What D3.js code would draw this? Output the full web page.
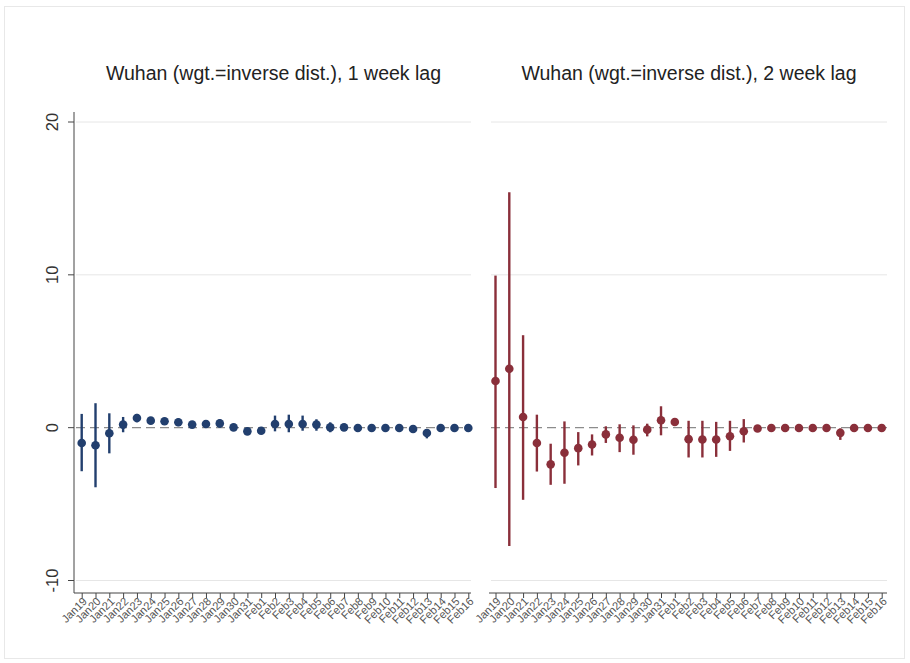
<!DOCTYPE html>
<html>
<head>
<meta charset="utf-8">
<script src="https://cdn.jsdelivr.net/npm/d3@7"></script>
<style>
  body { margin: 0; background: #fff; }
  svg { display: block; font-family: "Liberation Sans", Arial, sans-serif; }
</style>
</head>
<body>
<svg id="chart" width="910" height="663"></svg>
<script>
// categories (days)
const days = ["Jan19","Jan20","Jan21","Jan22","Jan23","Jan24","Jan25","Jan26","Jan27","Jan28",
  "Jan29","Jan30","Jan31","Feb1","Feb2","Feb3","Feb4","Feb5","Feb6","Feb7","Feb8","Feb9",
  "Feb10","Feb11","Feb12","Feb13","Feb14","Feb15","Feb16"];

// 1 week lag: estimate, lower, upper
const lag1Est = [-1.0,-1.15,-0.37,0.2,0.63,0.46,0.42,0.35,0.2,0.24,0.28,0.02,-0.24,-0.2,
  0.24,0.24,0.24,0.2,0.02,0.02,-0.02,-0.02,-0.02,-0.02,-0.09,-0.35,-0.02,-0.02,-0.02];
const lag1Lo = [-2.85,-3.9,-1.68,-0.3,0.35,0.25,0.25,0.1,0.05,0.0,0.0,-0.12,-0.4,-0.35,
  -0.24,-0.3,-0.2,-0.2,-0.3,-0.15,-0.12,-0.12,-0.12,-0.12,-0.2,-0.7,-0.12,-0.12,-0.12];
const lag1Hi = [0.9,1.6,0.94,0.7,0.9,0.65,0.6,0.6,0.35,0.5,0.55,0.16,-0.08,-0.05,
  0.79,0.85,0.79,0.55,0.35,0.18,0.08,0.08,0.08,0.08,0.02,-0.1,0.08,0.08,0.08];

// 2 week lag: estimate, lower, upper
const lag2Est = [3.05,3.85,0.7,-1.0,-2.4,-1.64,-1.34,-1.1,-0.44,-0.66,-0.79,-0.13,0.48,0.37,
  -0.75,-0.77,-0.77,-0.56,-0.23,-0.05,-0.02,-0.02,-0.02,-0.02,-0.02,-0.34,-0.02,-0.02,-0.02];
const lag2Lo = [-3.95,-7.75,-4.72,-2.87,-3.74,-3.67,-2.47,-1.82,-1.0,-1.6,-1.77,-0.57,-0.5,0.15,
  -1.95,-1.95,-1.91,-1.52,-0.97,-0.2,-0.12,-0.12,-0.12,-0.12,-0.12,-0.8,-0.12,-0.12,-0.12];
const lag2Hi = [9.95,15.4,6.05,0.85,-1.05,0.41,-0.29,-0.44,0.09,0.22,0.15,0.26,1.4,0.6,
  0.45,0.45,0.38,0.45,0.56,0.1,0.08,0.08,0.08,0.08,0.08,-0.05,0.08,0.08,0.08];

const yTicks = [-10, 0, 10, 20];
const titles = ["Wuhan (wgt.=inverse dist.), 1 week lag", "Wuhan (wgt.=inverse dist.), 2 week lag"];

const svg = d3.select("#chart");

// light outer frame
svg.append("rect")
  .attr("x", 4.5).attr("y", 6.5)
  .attr("width", 900).attr("height", 652)
  .attr("fill", "none").attr("stroke", "#e8e8e8");

const y = d3.scaleLinear().domain([-10, 20]).range([580.5, 122]);
const AXIS_Y = 593;

const panels = [
  { title: titles[0], est: lag1Est, lo: lag1Lo, hi: lag1Hi, color: "#223f6e",
    left: 74, right: 471, range: [81.7, 468.3], yAxis: true },
  { title: titles[1], est: lag2Est, lo: lag2Lo, hi: lag2Hi, color: "#8a2f3a",
    left: 489, right: 887, range: [495.5, 881.7], yAxis: false },
];

panels.forEach((p) => {
  const x = d3.scalePoint().domain(days).range(p.range);
  const g = svg.append("g");

  // title
  g.append("text")
    .attr("x", (p.left + p.right) / 2 + 1)
    .attr("y", 80)
    .attr("text-anchor", "middle")
    .attr("font-size", 19.5)
    .attr("fill", "#222")
    .text(p.title);

  // gridlines
  g.append("g")
    .selectAll("line")
    .data(yTicks.filter((t) => t !== 0))
    .join("line")
    .attr("x1", p.left + 2).attr("x2", p.right)
    .attr("y1", (d) => y(d)).attr("y2", (d) => y(d))
    .attr("stroke", "#e6e6e6").attr("stroke-width", 1);

  // dashed zero line
  g.append("line")
    .attr("x1", p.left + 2).attr("x2", p.right)
    .attr("y1", y(0)).attr("y2", y(0))
    .attr("stroke", "#8c8c8c").attr("stroke-width", 1.2)
    .attr("stroke-dasharray", "9,5");

  // y axis (left panel only)
  if (p.yAxis) {
    g.append("line")
      .attr("x1", p.left).attr("x2", p.left)
      .attr("y1", 112).attr("y2", AXIS_Y)
      .attr("stroke", "#444");
    g.append("g")
      .selectAll("line")
      .data(yTicks)
      .join("line")
      .attr("x1", p.left - 6).attr("x2", p.left)
      .attr("y1", (d) => y(d)).attr("y2", (d) => y(d))
      .attr("stroke", "#444");
    g.append("g")
      .selectAll("text")
      .data(yTicks)
      .join("text")
      .attr("transform", (d) => `translate(58,${y(d)}) rotate(-90)`)
      .attr("text-anchor", "middle")
      .attr("font-size", 16.5)
      .attr("fill", "#333")
      .text((d) => d);
  }

  // x axis
  const xAxis = d3.axisBottom(x).tickSize(5).tickSizeOuter(0).tickFormat("");
  const ax = g.append("g").attr("transform", `translate(0,${AXIS_Y})`).call(xAxis);
  ax.select(".domain")
    .attr("d", `M${p.left},0H${p.right}`)
    .attr("stroke", "#444");
  ax.selectAll(".tick line").attr("stroke", "#444");

  g.append("g")
    .selectAll("text")
    .data(days)
    .join("text")
    .attr("transform", (d) => `translate(${x(d) + 6},${AXIS_Y + 9}) rotate(-45)`)
    .attr("text-anchor", "end")
    .attr("font-size", 11.2)
    .attr("fill", "#555")
    .text((d) => d);

  // error bars and points
  g.append("g")
    .selectAll("line")
    .data(days)
    .join("line")
    .attr("x1", (d) => x(d)).attr("x2", (d) => x(d))
    .attr("y1", (d, i) => y(p.lo[i])).attr("y2", (d, i) => y(p.hi[i]))
    .attr("stroke", p.color).attr("stroke-width", 2.4);

  g.append("g")
    .selectAll("circle")
    .data(days)
    .join("circle")
    .attr("cx", (d) => x(d))
    .attr("cy", (d, i) => y(p.est[i]))
    .attr("r", 4.3)
    .attr("fill", p.color);
});
</script>
</body>
</html>
